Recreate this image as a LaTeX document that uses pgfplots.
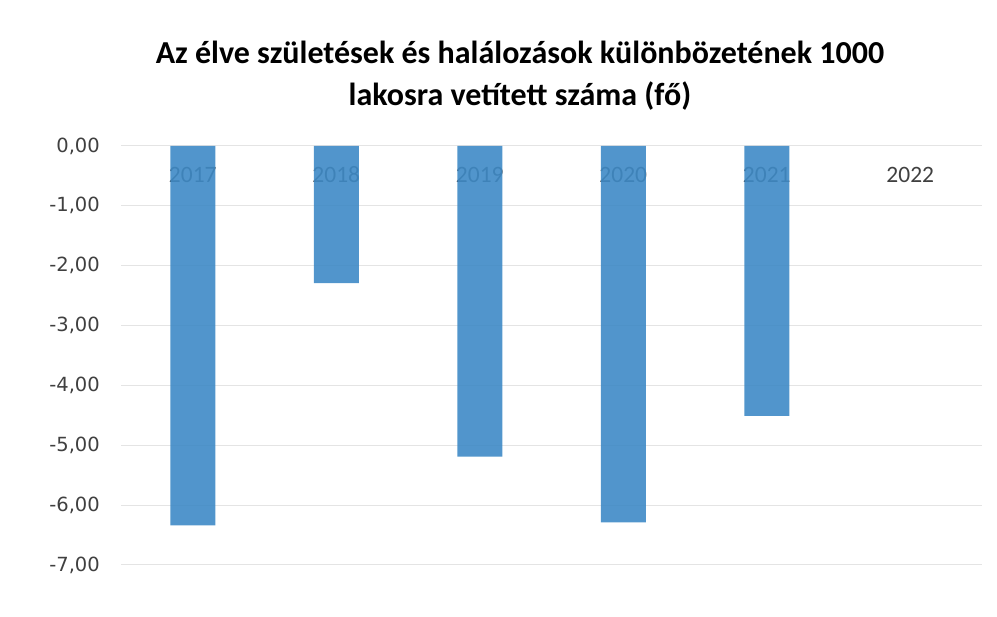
\documentclass[border=0pt]{standalone}
\usepackage{pgfplots}
\pgfplotsset{compat=1.18}
\usepackage{fontspec}
\setmainfont{Carlito}
\newfontfamily\dejavu{DejaVu Sans}
\definecolor{barblue}{RGB}{62,138,198}
\definecolor{ticktxt}{RGB}{64,64,64}
\definecolor{gridc}{RGB}{228,228,228}
\begin{document}
\begin{tikzpicture}
\path[use as bounding box] (0pt,0pt) rectangle (997pt,617pt);
\node[align=center, font=\fontsize{32}{42}\selectfont\bfseries, text=black] at (520pt,541pt)
  {Az élve születések és halálozások különbözetének 1000\\lakosra vetített száma (fő)};
\begin{axis}[
  at={(121pt,52pt)}, anchor=south west,
  scale only axis, width=861pt, height=419pt,
  xmin=-0.5, xmax=5.5, ymin=-7, ymax=0,
  ytick={-7,-6,...,0},
  xtick={0,1,2,3,4,5},
  xticklabels={2017,2018,2019,2020,2021,2022},
  xticklabel pos=right,
  xticklabel style={anchor=center, yshift=-29pt, font=\fontsize{23.5}{26}\selectfont, text=ticktxt},
  yticklabel style={anchor=east, inner sep=0pt, xshift=-21pt, font=\dejavu\fontsize{19.5}{22}\selectfont, text=ticktxt},
  /pgf/number format/.cd, fixed, fixed zerofill, precision=2, use comma, assume math mode=true,
  /pgfplots/.cd,
  major tick length=0pt,
  axis line style={draw=none},
  ymajorgrids, grid style={gridc, line width=1pt},
  xmajorgrids=false,
  axis on top=false,
]
\addplot[ybar, bar width=45pt, fill=barblue, draw=none, fill opacity=0.9] coordinates {
  (0,-6.34) (1,-2.29) (2,-5.19) (3,-6.29) (4,-4.51)
};
\end{axis}
\end{tikzpicture}
\end{document}
